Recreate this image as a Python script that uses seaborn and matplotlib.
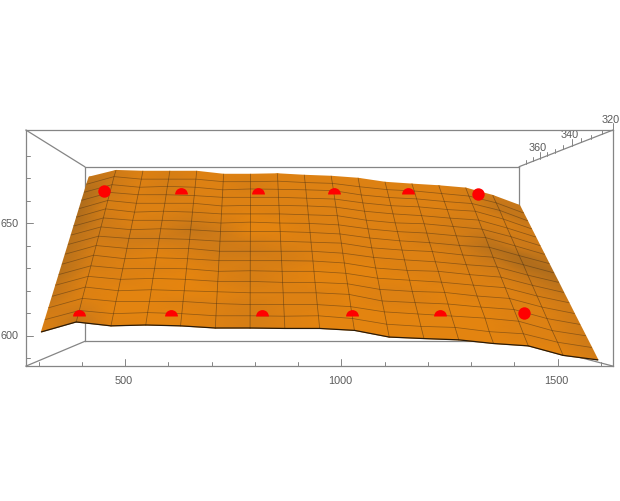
import numpy as np
import pandas as pd
import matplotlib
matplotlib.use("Agg")
import matplotlib.pyplot as plt
from matplotlib.markers import MarkerStyle
import seaborn as sns

# surface samples
x_nodes = [285, 369, 453, 537, 621, 705, 789, 873, 957, 1041, 1125, 1209, 1293, 1377, 1461, 1545, 1629]
y_nodes = [327, 330, 333, 336, 339, 342, 345, 348, 351, 354, 357, 360, 363, 366, 369, 372, 375]

heights = [
    [600.4, 605, 603.2, 603.6, 603.2, 602.2, 602.2, 602, 602, 601.1, 598, 597.3, 596.7, 595, 593.9, 589.5, 587.4],
    [605.7, 610, 608.5, 609, 608.5, 607.5, 607.5, 607.3, 607.5, 606.2, 603.5, 602.5, 602, 600, 599, 595, 592.5],
    [611, 615.5, 614, 614, 614, 613, 612.5, 612.6, 612.5, 611.5, 609, 608, 607, 606, 604.5, 600, 597.5],
    [616.3, 620.8, 619, 619.5, 619, 618.5, 618, 618, 618, 617.2, 614, 613.2, 612.5, 611, 609.8, 605.4, 602.5],
    [621.6, 626, 624.5, 625, 624.5, 623.5, 623.5, 623, 623, 622.3, 619.5, 618.5, 618, 616.2, 615, 610.7, 607.5],
    [626.9, 631.3, 629.8, 630, 629.8, 628.5, 628.8, 628.5, 628.5, 627.5, 625, 624, 623, 621.5, 620.2, 616, 612.6],
    [632.2, 636.8, 635, 635.5, 635, 634, 634, 634, 633.8, 632.8, 630.2, 629, 628.5, 626.8, 625.5, 621.3, 617.6],
    [637.5, 642, 640.5, 640.5, 640.5, 639, 639, 639, 639, 638, 635.8, 634.5, 633.5, 632, 630.8, 626.5, 622.7],
    [642.8, 647.2, 646, 646, 645.5, 644.5, 644.5, 644.5, 644, 643.5, 641, 639.8, 639, 637.2, 636, 632, 627.7],
    [648.1, 652.5, 651, 651.5, 651, 650, 650, 650, 649.5, 648.7, 646.5, 645, 644, 642.5, 641.5, 637, 632.7],
    [653.4, 657.8, 656.5, 656.5, 656, 655, 655.5, 655, 654.8, 654, 651.8, 650.3, 649.5, 648, 647, 642.5, 637.8],
    [658.7, 663.3, 661.5, 662, 661.5, 660.5, 660.5, 660.5, 660, 659.5, 657, 655.5, 655, 653.5, 652, 647.8, 642.8],
    [664, 668.6, 667, 667, 667, 665.5, 665.8, 665.8, 665.5, 664.8, 662.5, 661, 660, 658.6, 657.5, 653, 647.9],
    [669.3, 673.8, 672.5, 672.5, 672, 671, 671, 671, 670.5, 670, 667.8, 666.2, 665.5, 664, 663, 658.5, 652.9],
    [674.6, 679, 677.5, 678, 677.5, 676, 676.5, 676.3, 676, 675.5, 673, 671.5, 670.7, 669.2, 668, 664, 658],
    [680, 684.5, 683, 683, 683, 681.5, 681.5, 681.8, 681, 680.5, 678.5, 676.8, 676, 674.5, 673, 669, 663],
    [685, 689, 688.5, 688.5, 688.5, 686.7, 686.7, 687, 686.1, 685.5, 684.3, 681.9, 680.8, 679.8, 678.4, 674, 668],
]

# brightness of the lit surface, 0 dark .. 10 bright
shade = [
    [8, 5, 8, 9, 9, 8, 7, 8, 9, 9, 9, 9, 9, 9, 9, 9, 7],
    [7, 6, 9, 9, 9, 8, 7, 8, 9, 9, 9, 9, 9, 9, 8, 8, 6],
    [6, 8, 9, 9, 8, 8, 7, 8, 8, 9, 9, 9, 9, 9, 8, 8, 6],
    [5, 8, 9, 9, 10, 9, 8, 8, 8, 9, 8, 8, 9, 9, 8, 8, 6],
    [5, 8, 8, 9, 10, 8, 7, 8, 9, 9, 8, 8, 9, 8, 8, 8, 6],
    [4, 7, 8, 8, 9, 8, 7, 8, 9, 9, 9, 9, 8, 8, 8, 7, 6],
    [4, 7, 8, 9, 8, 7, 7, 7, 8, 9, 9, 8, 8, 8, 7, 6, 5],
    [4, 7, 7, 8, 7, 6, 6, 7, 8, 8, 8, 8, 8, 7, 6, 5, 4],
    [4, 6, 6, 6, 6, 6, 7, 8, 8, 8, 8, 8, 8, 7, 5, 3, 3],
    [4, 6, 7, 7, 5, 6, 9, 9, 8, 8, 8, 8, 7, 6, 4, 3, 4],
    [3, 6, 8, 7, 6, 7, 9, 9, 8, 8, 8, 8, 7, 7, 5, 6, 5],
    [3, 7, 8, 8, 7, 8, 9, 8, 8, 8, 8, 8, 8, 7, 6, 6, 6],
    [3, 7, 8, 8, 8, 8, 8, 8, 8, 8, 8, 8, 8, 7, 7, 7, 6],
    [3, 6, 8, 7, 8, 8, 8, 8, 8, 8, 8, 8, 8, 8, 7, 7, 6],
    [3, 6, 8, 7, 8, 8, 7, 8, 8, 8, 8, 8, 8, 8, 7, 5, 5],
    [4, 6, 8, 7, 8, 8, 7, 8, 8, 8, 8, 8, 8, 8, 7, 5, 5],
    [5, 6, 8, 7, 8, 8, 8, 8, 8, 8, 8, 8, 8, 8, 7, 6, 5],
]

# red measurement points
dome_x = [356, 589, 819, 1047, 1269, 583, 812, 1037, 1257]
dome_y = [335, 335, 335, 335, 335, 365, 365, 365, 365]
dome_z = [606.6, 606.6, 606.6, 606.6, 606.6, 672.9, 672.9, 672.9, 672.9]
ball_x = [1482, 354, 1467]
ball_y = [335, 365, 365]
ball_z = [608.2, 674.3, 672.6]

# box and ticks
x_range = (271, 1628)
y_range = (320, 375)
z_range = (586.4, 691.3)
x_ticks = [300, 400, 500, 600, 700, 800, 900, 1000, 1100, 1200, 1300, 1400, 1500, 1600]
x_labels = {500: "500", 1000: "1000", 1500: "1500"}
y_ticks = [320, 325, 330, 335, 340, 345, 350, 355, 360, 365, 370]
y_labels = {320: "320", 340: "340", 360: "360"}
z_ticks = [590, 600, 610, 620, 630, 640, 650, 660, 670, 680]
z_labels = {600: "600", 650: "650"}


def project(x, y, z):
    # same view as the original: front face flat on, off-centre vanishing point
    x, y, z = np.asarray(x, float), np.asarray(y, float), np.asarray(z, float)
    s = 1 / (1 + 0.35 * (y - 320) / 55)
    fx = 125 + (x - 500) * 0.4325
    fz = 336.5 - (z - 600) * 2.25
    return 252 + (fx - 252) * s, 272 + (fz - 272) * s


sns.set_style("white")
plt.rcParams["font.family"] = ["Liberation Sans", "DejaVu Sans"]
fig = plt.figure(figsize=(6.2, 5.02), dpi=100)
ax = fig.add_axes([0, 0, 1, 1])

frame = "#858585"
label_col = "#5a5a5a"


def edge(p, q, z=1, lw=0.9):
    a = project(*p)
    b = project(*q)
    ax.plot([a[0], b[0]], [a[1], b[1]], color=frame, lw=lw, zorder=z, solid_capstyle="projecting")


x0, x1 = x_range
y0, y1 = y_range
z0, z1 = z_range

# back face and depth edges behind the surface
edge((x0, y1, z0), (x1, y1, z0))
edge((x0, y1, z1), (x1, y1, z1))
edge((x0, y1, z0), (x0, y1, z1))
edge((x1, y1, z0), (x1, y1, z1))
for xe, ze in [(x0, z0), (x0, z1), (x1, z0), (x1, z1)]:
    edge((xe, y0, ze), (xe, y1, ze))

# surface
gx, gy = np.meshgrid(x_nodes, y_nodes)
px, py = project(gx, gy, np.array(heights))
cmap = sns.blend_palette(["#94601f", "#b26e1c", "#d27c17", "#e6850f"], as_cmap=True)
ax.pcolormesh(px, py, np.array(shade), shading="gouraud", cmap=cmap, vmin=0, vmax=9.5, zorder=2)

mesh_col = "#4a3114"
for r in range(1, len(y_nodes) - 1):
    ax.plot(px[r], py[r], color=mesh_col, lw=0.55, alpha=0.5, zorder=3)
for k in range(1, len(x_nodes) - 1):
    ax.plot(px[:, k], py[:, k], color=mesh_col, lw=0.55, alpha=0.55, zorder=3)
ax.plot(px[0], py[0], color="#2a1a08", lw=0.9, zorder=3)

# points, the domes are half sunk in the surface
dome_px, dome_py = project(dome_x, dome_y, dome_z)
ball_px, ball_py = project(ball_x, ball_y, ball_z)
domes = pd.DataFrame({"px": dome_px, "py": dome_py})
balls = pd.DataFrame({"px": ball_px, "py": ball_py})
sns.scatterplot(data=domes, x="px", y="py", ax=ax, s=85, color="#ff0000", linewidth=0,
                marker=MarkerStyle("o", fillstyle="top"), zorder=4, legend=False)
sns.scatterplot(data=balls, x="px", y="py", ax=ax, s=80, color="#ff0000", linewidth=0,
                marker="o", zorder=4, legend=False)
ax.set_xlim(0, 620)
ax.set_ylim(502, 0)
ax.axis("off")

# front face
edge((x0, y0, z0), (x1, y0, z0), z=5)
edge((x0, y0, z1), (x1, y0, z1), z=5)
edge((x0, y0, z0), (x0, y0, z1), z=5)
edge((x1, y0, z0), (x1, y0, z1), z=5)

# ticks and labels
for t in x_ticks:
    a = project(t, y0, z0)
    n = 7 if t in x_labels else 4
    ax.plot([a[0], a[0]], [a[1], a[1] - n], color=frame, lw=0.7, zorder=5)
    if t in x_labels:
        ax.text(a[0] - 1, a[1] + 14, x_labels[t], ha="center", va="center", fontsize=7.8, color=label_col)
for t in z_ticks:
    a = project(x0, y0, t)
    n = 7 if t in z_labels else 4
    ax.plot([a[0], a[0] + n], [a[1], a[1]], color=frame, lw=0.7, zorder=5)
    if t in z_labels:
        ax.text(a[0] - 7, a[1], z_labels[t], ha="right", va="center", fontsize=7.8, color=label_col)
for t in y_ticks:
    a = project(x1, t, z1)
    n = 7 if t in y_labels else 4
    ax.plot([a[0], a[0]], [a[1], a[1] - n], color=frame, lw=0.7, zorder=5)
    if t in y_labels:
        ax.text(a[0] - 2, a[1] - 11.5, y_labels[t], ha="center", va="center", fontsize=7.8, color=label_col)

fig.savefig("out.png", dpi=100)
